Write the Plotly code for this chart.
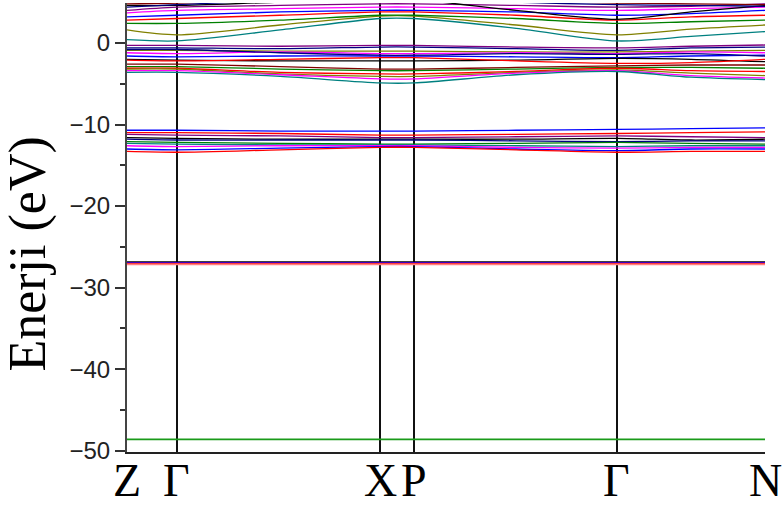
import plotly.graph_objects as go

# High-symmetry path (fractional path length) and labels
K_POS = [0.0, 0.078, 0.24, 0.397, 0.45, 0.61, 0.768, 0.884, 1.0]
TICK_POS = [0.0, 0.078, 0.397, 0.45, 0.768, 1.0]
TICK_LABELS = ["Z", "Γ", "X", "P", "Γ", "N"]

# Conduction bands (eV) at K_POS
cond_bands = [
    [0.40, 0.25, 1.60, 3.00, 3.00, 1.80, 0.25, 0.80, 1.40],
    [1.60, 1.00, 2.20, 3.30, 3.30, 2.20, 1.00, 1.70, 2.20],
    [2.40, 2.40, 2.80, 3.40, 3.40, 3.00, 2.40, 2.60, 2.80],
    [2.80, 3.00, 3.40, 3.80, 3.80, 3.40, 2.80, 3.20, 3.40],
    [3.20, 3.40, 3.80, 4.00, 4.00, 3.80, 3.40, 3.60, 4.00],
    [3.70, 4.00, 4.20, 4.40, 4.40, 4.20, 4.00, 4.20, 4.40],
    [4.00, 4.40, 4.60, 4.80, 4.80, 4.60, 4.40, 4.50, 4.80],
    [4.60, 4.60, 5.00, 5.30, 5.30, 4.00, 2.90, 3.80, 4.60],
    [4.40, 4.70, 5.20, 5.60, 5.60, 5.00, 4.70, 4.60, 4.50],
    [4.80, 4.90, 5.30, 5.80, 5.80, 5.20, 4.90, 4.80, 4.70],
]
cond_colors = ["#008080", "#808000", "#008000", "#FF0000", "#0000FF",
               "#FF00FF", "#800080", "#000000", "#000080", "#800000"]

# Upper valence bands (eV)
val_bands = [
    [-0.30, -0.30, -0.40, -0.30, -0.30, -0.50, -0.60, -0.40, -0.25],
    [-0.60, -0.60, -0.70, -0.50, -0.50, -0.70, -0.90, -0.60, -0.50],
    [-0.90, -0.90, -1.00, -1.00, -1.00, -1.10, -1.10, -1.00, -0.90],
    [-1.20, -1.30, -1.10, -1.30, -1.30, -1.20, -1.30, -1.10, -1.20],
    [-1.60, -1.70, -1.60, -1.60, -1.60, -1.70, -1.80, -1.60, -1.50],
    [-2.00, -2.10, -2.20, -2.20, -2.20, -2.10, -1.90, -2.00, -2.30],
    [-2.10, -2.20, -2.00, -1.80, -1.80, -2.20, -2.50, -2.40, -2.00],
    [-2.60, -2.60, -2.90, -3.20, -3.20, -3.00, -2.80, -2.70, -2.70],
    [-2.90, -2.90, -3.20, -3.40, -3.40, -3.20, -3.00, -3.00, -3.10],
    [-3.10, -3.10, -3.60, -3.80, -3.80, -3.50, -3.10, -3.40, -3.50],
    [-3.20, -3.20, -3.80, -4.10, -4.10, -3.60, -3.30, -3.70, -4.00],
    [-3.40, -3.40, -3.90, -4.40, -4.40, -3.70, -3.40, -4.00, -4.30],
    [-3.60, -3.60, -4.10, -4.90, -4.90, -3.90, -3.50, -4.20, -4.50],
    [-0.80, -0.80, -1.20, -1.50, -1.50, -1.30, -1.40, -1.30, -1.60],
]
val_colors = ["#800080", "#000080", "#808000", "#FF00FF", "#0000FF",
              "#000000", "#FF0000", "#800000", "#008000", "#FF0000",
              "#808000", "#FF00FF", "#008080", "#000080"]

# Semicore bands (eV)
semi_bands = [
    [-10.7, -10.7, -10.8, -10.8, -10.8, -10.7, -10.6, -10.5, -10.4],
    [-11.0, -11.0, -11.1, -11.3, -11.3, -11.2, -11.1, -11.0, -10.9],
    [-11.2, -11.3, -11.4, -11.6, -11.6, -11.5, -11.4, -11.5, -11.6],
    [-11.6, -11.7, -11.8, -11.8, -11.8, -11.8, -11.7, -11.9, -11.8],
    [-11.8, -11.9, -11.9, -11.9, -11.9, -12.0, -12.1, -12.0, -12.0],
    [-12.1, -12.2, -12.3, -12.4, -12.4, -12.3, -12.2, -12.3, -12.4],
    [-12.3, -12.4, -12.5, -12.5, -12.5, -12.6, -12.7, -12.6, -12.6],
    [-12.6, -12.7, -12.6, -12.6, -12.6, -12.8, -12.9, -12.8, -12.8],
    [-13.0, -13.1, -12.9, -12.7, -12.7, -13.0, -13.2, -13.0, -13.0],
    [-13.3, -13.4, -13.1, -12.8, -12.8, -13.1, -13.4, -13.3, -13.3],
]
semi_colors = ["#0000FF", "#FF0000", "#800080", "#000000", "#000080",
               "#008000", "#008080", "#FF00FF", "#0000FF", "#FF0000"]

# Flat core levels (eV)
core_levels = [-26.85, -26.95, -27.05, -27.15, -48.6]
core_colors = ["#000000", "#0000FF", "#FF0000", "#FF8080", "#1a9a1a"]

fig = go.Figure()

for bands, colors in [(cond_bands, cond_colors), (val_bands, val_colors),
                      (semi_bands, semi_colors)]:
    for b, c in zip(bands, colors):
        fig.add_trace(go.Scatter(x=K_POS, y=b, mode="lines",
                                 line=dict(color=c, width=1.3, shape="spline", smoothing=0.8),
                                 showlegend=False, hoverinfo="skip"))

for lv, c in zip(core_levels, core_colors):
    fig.add_trace(go.Scatter(x=[K_POS[0], K_POS[-1]], y=[lv, lv], mode="lines",
                             line=dict(color=c, width=1.6),
                             showlegend=False, hoverinfo="skip"))

annotations = [dict(
    text=lab, xref="x", yref="paper", x=pos, y=0, xanchor="center", yanchor="top",
    yshift=-1, showarrow=False,
    font=dict(family="Liberation Serif", size=46, color="#000000"),
) for pos, lab in zip(TICK_POS, TICK_LABELS)]

annotations.append(dict(
    text="Enerji (eV)", textangle=-90, xref="paper", yref="paper",
    x=-0.155, y=0.44, xanchor="center", yanchor="middle", showarrow=False,
    font=dict(family="Liberation Serif", size=52, color="#000000"),
))

fig.update_layout(
    width=784, height=507,
    margin=dict(l=127, r=19, t=3, b=55),
    paper_bgcolor="white", plot_bgcolor="white",
    xaxis=dict(
        range=[0, 1], tickvals=TICK_POS, showticklabels=False,
        showgrid=True, gridcolor="#111111", gridwidth=1.5,
        showline=True, linecolor="#222222", linewidth=2, mirror=False,
        ticks="", zeroline=False, automargin=False,
    ),
    yaxis=dict(
        range=[-50.15, 4.9], tickvals=[0, -10, -20, -30, -40, -50],
        showgrid=False, zeroline=False, automargin=False,
        showline=True, linecolor="#444444", linewidth=2,
        ticks="outside", ticklen=10, tickwidth=1.5, tickcolor="#333333",
        minor=dict(dtick=5, ticks="outside", ticklen=5, tickwidth=1.5, tickcolor="#333333"),
        tickfont=dict(family="Liberation Sans", size=24, color="#222222"),
    ),
    annotations=annotations,
)

fig.write_html("out.html")
